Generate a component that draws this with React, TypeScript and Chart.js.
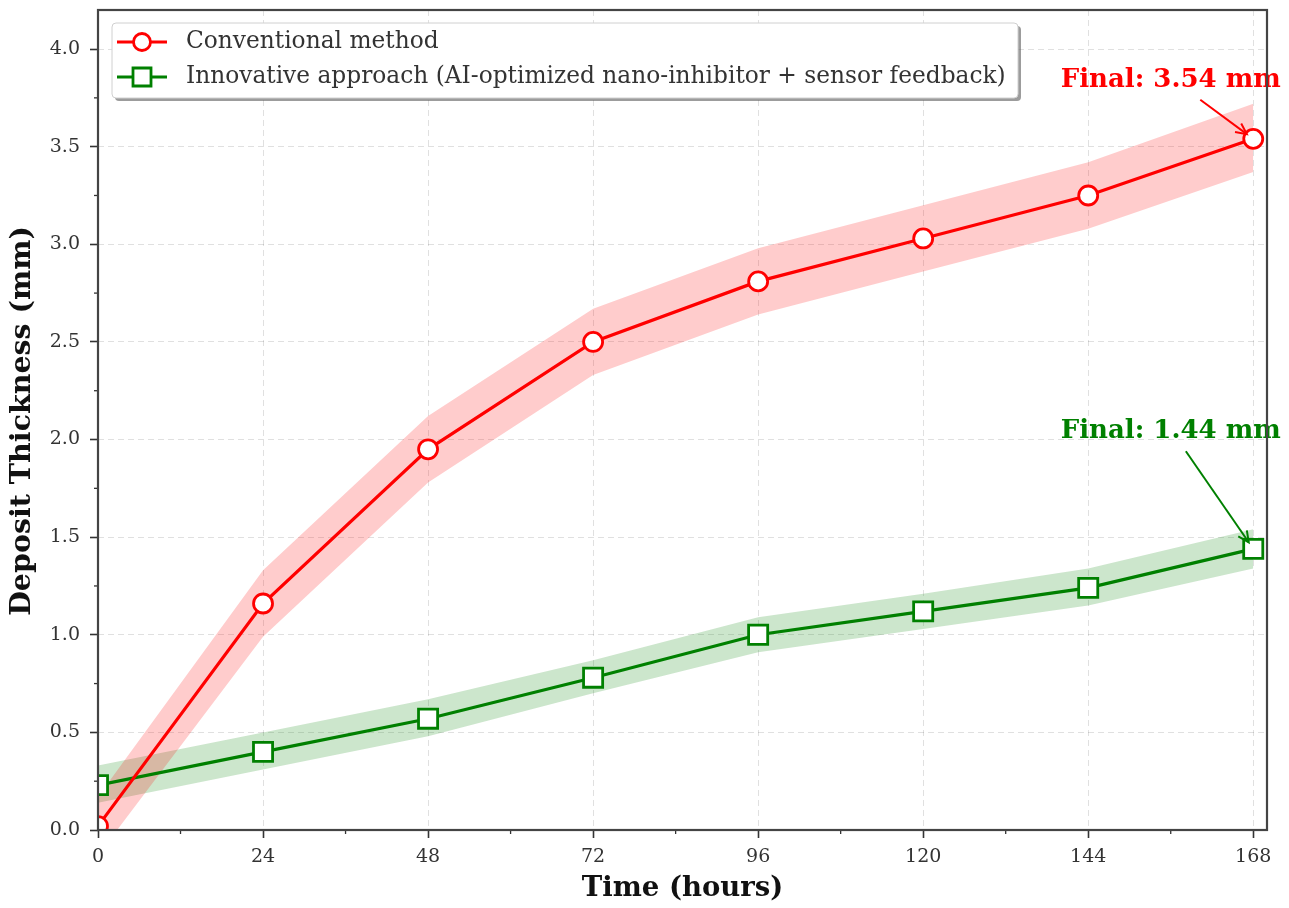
import { useEffect, useRef } from "react";
import { Chart, registerables } from "chart.js";

Chart.register(...registerables);

const hours = [0, 24, 48, 72, 96, 120, 144, 168];
const conventional = [0.02, 1.16, 1.95, 2.5, 2.81, 3.03, 3.25, 3.54];
const conventionalUpper = [0.17, 1.33, 2.12, 2.67, 2.98, 3.2, 3.42, 3.72];
const conventionalLower = [-0.13, 0.99, 1.78, 2.33, 2.64, 2.86, 3.08, 3.37];
const innovative = [0.23, 0.4, 0.57, 0.78, 1.0, 1.12, 1.24, 1.44];
const innovativeUpper = [0.33, 0.5, 0.67, 0.87, 1.09, 1.21, 1.34, 1.54];
const innovativeLower = [0.14, 0.31, 0.48, 0.7, 0.91, 1.03, 1.15, 1.34];

const xTickValues = [0, 24, 48, 72, 96, 120, 144, 168];
const xMinorTickValues = [12, 36, 60, 84, 108, 132, 156];
const yTickValues = [0, 0.5, 1.0, 1.5, 2.0, 2.5, 3.0, 3.5, 4.0];
const yMinorTickValues = [0.25, 0.75, 1.25, 1.75, 2.25, 2.75, 3.25, 3.75];

const seriesLabels = [
  "Conventional method",
  "Innovative approach (AI-optimized nano-inhibitor + sensor feedback)",
];
const finalLabels = ["Final: 3.54 mm", "Final: 1.44 mm"];
const xTitle = "Time (hours)";
const yTitle = "Deposit Thickness (mm)";

const RED = "#ff0000";
const GREEN = "#008000";
const FONT = "'DejaVu Serif', 'Liberation Serif', serif";

const toPoints = (ys: number[]) => hours.map((h, i) => ({ x: h, y: ys[i] }));

function drawArrow(ctx: CanvasRenderingContext2D, x1: number, y1: number, x2: number, y2: number, color: string) {
  const ang = Math.atan2(y2 - y1, x2 - x1);
  ctx.save();
  ctx.strokeStyle = color;
  ctx.lineWidth = 2;
  ctx.beginPath();
  ctx.moveTo(x1, y1);
  ctx.lineTo(x2, y2);
  ctx.stroke();
  const L = 12;
  const w = 0.45;
  ctx.beginPath();
  ctx.moveTo(x2 - L * Math.cos(ang - w), y2 - L * Math.sin(ang - w));
  ctx.lineTo(x2, y2);
  ctx.lineTo(x2 - L * Math.cos(ang + w), y2 - L * Math.sin(ang + w));
  ctx.stroke();
  ctx.restore();
}

const decorPlugin = {
  id: "decor",
  afterDraw(chart: any) {
    const { ctx, chartArea: a, scales } = chart;
    const x = scales.x;
    const y = scales.y;
    ctx.save();

    // minor ticks
    ctx.strokeStyle = "#333";
    ctx.lineWidth = 1.3;
    xMinorTickValues.forEach((v) => {
      const px = x.getPixelForValue(v);
      ctx.beginPath();
      ctx.moveTo(px, a.bottom);
      ctx.lineTo(px, a.bottom + 4);
      ctx.stroke();
    });
    yMinorTickValues.forEach((v) => {
      const py = y.getPixelForValue(v);
      ctx.beginPath();
      ctx.moveTo(a.left, py);
      ctx.lineTo(a.left - 4, py);
      ctx.stroke();
    });

    // annotations
    const lastIdx = hours.length - 1;
    const finals = [
      { val: conventional[lastIdx], color: RED, text: finalLabels[0], tx: 156.0, ty: 3.84, sx: 160.3, sy: 3.74 },
      { val: innovative[lastIdx], color: GREEN, text: finalLabels[1], tx: 156.0, ty: 2.04, sx: 158.2, sy: 1.94 },
    ];
    finals.forEach((f) => {
      const px = x.getPixelForValue(hours[lastIdx]);
      const py = y.getPixelForValue(f.val);
      const sx = x.getPixelForValue(f.sx);
      const sy = y.getPixelForValue(f.sy);
      const ang = Math.atan2(py - sy, px - sx);
      const tipX = px - 8 * Math.cos(ang);
      const tipY = py - 8 * Math.sin(ang);
      drawArrow(ctx, sx, sy, tipX, tipY, f.color);
      ctx.fillStyle = f.color;
      ctx.font = `bold 26px ${FONT}`;
      ctx.textAlign = "center";
      ctx.textBaseline = "middle";
      ctx.fillText(f.text, x.getPixelForValue(f.tx), y.getPixelForValue(f.ty));
    });

    // frame
    ctx.strokeStyle = "#444";
    ctx.lineWidth = 2.2;
    ctx.strokeRect(a.left, a.top, a.right - a.left, a.bottom - a.top);

    // legend
    const lx = 112, ly = 23, lw = 906, lh = 75;
    ctx.fillStyle = "rgba(90,90,90,0.6)";
    ctx.beginPath();
    ctx.roundRect(lx + 3, ly + 3, lw, lh, 4);
    ctx.fill();
    ctx.fillStyle = "#fff";
    ctx.strokeStyle = "#d0d0d0";
    ctx.lineWidth = 1;
    ctx.beginPath();
    ctx.roundRect(lx, ly, lw, lh, 4);
    ctx.fill();
    ctx.stroke();

    const rows = [
      { y: 42, color: RED, style: "circle" },
      { y: 77, color: GREEN, style: "rect" },
    ];
    rows.forEach((r, i) => {
      ctx.strokeStyle = r.color;
      ctx.lineWidth = 3.2;
      ctx.beginPath();
      ctx.moveTo(117, r.y);
      ctx.lineTo(167, r.y);
      ctx.stroke();
      ctx.fillStyle = "#fff";
      ctx.lineWidth = 2.8;
      ctx.beginPath();
      if (r.style === "circle") ctx.arc(142, r.y, 8.5, 0, Math.PI * 2);
      else ctx.rect(133, r.y - 9, 18, 18);
      ctx.fill();
      ctx.stroke();
      ctx.fillStyle = "#333";
      ctx.font = `23.3px ${FONT}`;
      ctx.textAlign = "left";
      ctx.textBaseline = "middle";
      ctx.fillText(seriesLabels[i], 186, r.y);
    });

    // axis titles
    ctx.fillStyle = "#111";
    ctx.font = `bold 27.5px ${FONT}`;
    ctx.textAlign = "center";
    ctx.textBaseline = "middle";
    ctx.fillText(xTitle, (a.left + a.right) / 2, 889);
    ctx.save();
    ctx.translate(23, 421);
    ctx.rotate(-Math.PI / 2);
    ctx.font = `bold 28.5px ${FONT}`;
    ctx.fillText(yTitle, 0, 0);
    ctx.restore();

    ctx.restore();
  },
};

export default function App() {
  const ref = useRef<HTMLCanvasElement | null>(null);
  useEffect(() => {
    if (!ref.current) return;
    const tickFont = { family: FONT, size: 19 };
    const chart = new Chart(ref.current, {
      type: "line",
      data: {
        datasets: [
          {
            label: seriesLabels[0],
            data: toPoints(conventional),
            borderColor: RED,
            borderWidth: 3.2,
            pointStyle: "circle",
            pointRadius: 9.5,
            pointBorderWidth: 2.8,
            pointBackgroundColor: "#fff",
            pointBorderColor: RED,
            fill: false,
            order: 0,
            clip: 0,
          },
          {
            label: seriesLabels[1],
            data: toPoints(innovative),
            borderColor: GREEN,
            borderWidth: 3.2,
            pointStyle: "rect",
            pointRadius: 13.5,
            pointBorderWidth: 2.8,
            pointBackgroundColor: "#fff",
            pointBorderColor: GREEN,
            fill: false,
            order: 1,
            clip: 0,
          },
          {
            label: "conv-upper",
            data: toPoints(conventionalUpper),
            borderWidth: 0,
            pointRadius: 0,
            backgroundColor: "rgba(255,0,0,0.2)",
            fill: "+1",
            order: 2,
            clip: 0,
          },
          {
            label: "conv-lower",
            data: toPoints(conventionalLower),
            borderWidth: 0,
            pointRadius: 0,
            fill: false,
            order: 3,
            clip: 0,
          },
          {
            label: "inn-upper",
            data: toPoints(innovativeUpper),
            borderWidth: 0,
            pointRadius: 0,
            backgroundColor: "rgba(0,128,0,0.2)",
            fill: "+1",
            order: 4,
            clip: 0,
          },
          {
            label: "inn-lower",
            data: toPoints(innovativeLower),
            borderWidth: 0,
            pointRadius: 0,
            fill: false,
            order: 5,
            clip: 0,
          },
        ],
      },
      options: {
        animation: false,
        responsive: false,
        maintainAspectRatio: false,
        layout: { autoPadding: false, padding: { top: 10, right: 22, left: 0, bottom: 0 } },
        plugins: { legend: { display: false }, tooltip: { enabled: false } },
        elements: { line: { tension: 0 } },
        scales: {
          x: {
            type: "linear",
            min: 0,
            max: 170,
            afterBuildTicks: (s: any) => {
              s.ticks = xTickValues.map((v) => ({ value: v }));
            },
            afterFit: (s: any) => {
              s.height = 78;
              s.paddingLeft = 0;
              s.paddingRight = 0;
            },
            ticks: { color: "#333", font: tickFont, padding: 8, callback: (v: any) => String(v) },
            grid: { color: "rgba(0,0,0,0.12)", lineWidth: 1, tickColor: "#333", tickLength: 8, tickWidth: 1.6 },
            border: { display: false, dash: [6, 4] },
          },
          y: {
            type: "linear",
            min: 0,
            max: 4.2,
            afterBuildTicks: (s: any) => {
              s.ticks = yTickValues.map((v) => ({ value: v }));
            },
            afterFit: (s: any) => {
              s.width = 98;
              s.paddingTop = 0;
              s.paddingBottom = 0;
            },
            ticks: { color: "#333", font: tickFont, padding: 10, callback: (v: any) => Number(v).toFixed(1) },
            grid: { color: "rgba(0,0,0,0.12)", lineWidth: 1, tickColor: "#333", tickLength: 8, tickWidth: 1.6 },
            border: { display: false, dash: [6, 4] },
          },
        },
      },
      plugins: [decorPlugin],
    } as any);
    return () => chart.destroy();
  }, []);
  return (
    <div style={{ position: "absolute", left: 0, top: 0, width: 1289, height: 908, background: "#fff" }}>
      <canvas ref={ref} width={1289} height={908} style={{ display: "block" }} />
    </div>
  );
}
